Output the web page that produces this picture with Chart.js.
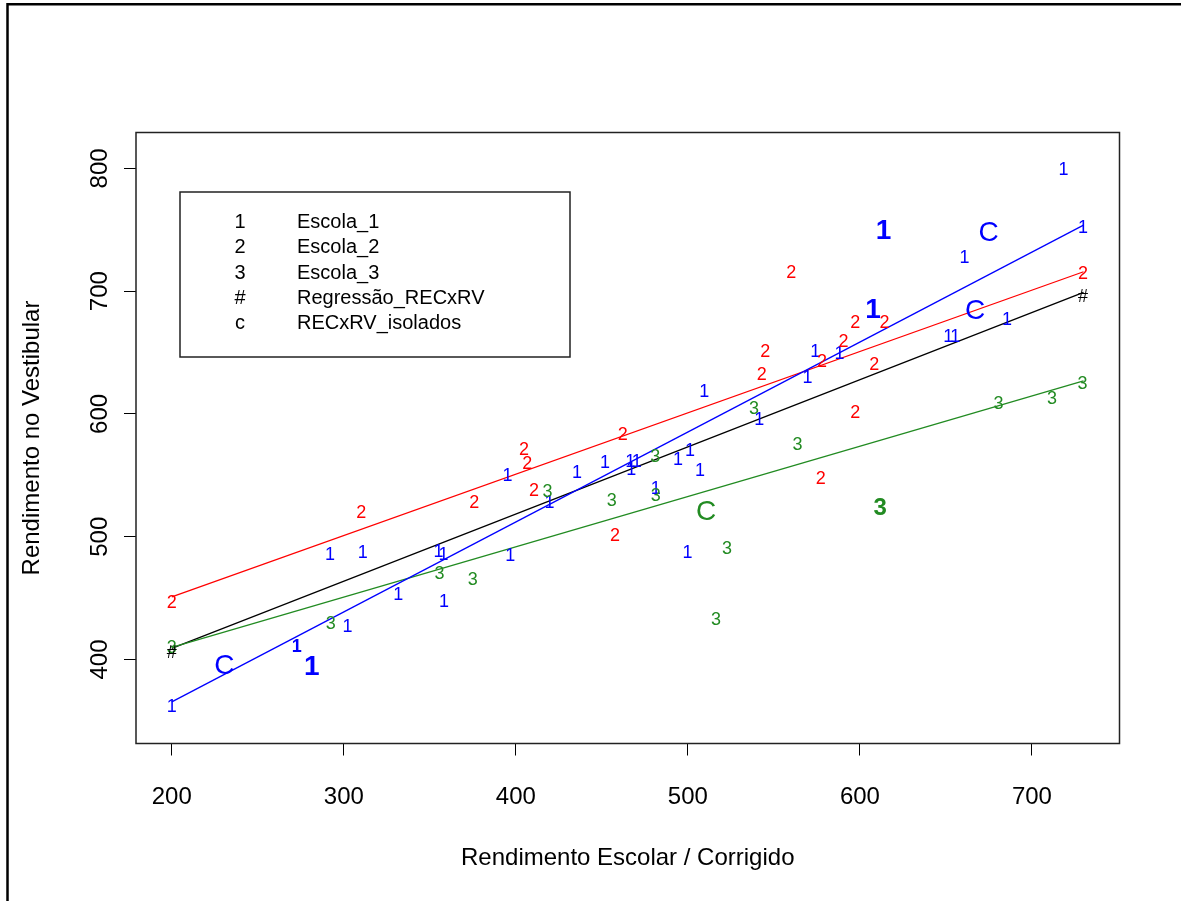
<!DOCTYPE html>
<html>
<head>
<meta charset="utf-8">
<script src="https://cdn.jsdelivr.net/npm/chart.js@4.4.0/dist/chart.umd.min.js"></script>
<style>
  html, body { margin: 0; padding: 0; background: #fff; }
  canvas { display: block; }
</style>
</head>
<body>
<canvas id="myChart" width="1181" height="901"></canvas>
<script>
// axis ticks
const xTicks = [200, 300, 400, 500, 600, 700];
const yTicks = [400, 500, 600, 700, 800];

// Escola_1 (blue "1")
const esc1X = [718.4, 660.8, 729.7, 685.5, 651.3, 655.4, 574.0, 588.1, 569.5, 509.5, 541.5, 395.1, 419.5, 435.5, 451.9, 466.5,
  470.3, 467.1, 494.2, 501.3, 507.1, 481.4, 499.8, 396.7, 292.0, 311.0, 355.0, 357.9, 331.7, 358.3, 302.1, 200];
const esc1Y = [798.6, 726.7, 751.1, 676.4, 662.8, 662.8, 650.6, 648.7, 628.9, 618.0, 595.0, 549.6, 527.6, 552.0, 560.2, 561.0,
  561.0, 554.2, 562.4, 570.0, 553.6, 538.5, 486.8, 484.2, 485.0, 486.8, 487.7, 485.0, 452.4, 446.9, 426.1, 361.4];
// repeated points (drawn heavier)
const esc1BigX = [613.7, 607.7, 281.4];
const esc1BigY = [748.4, 684.6, 394.0];
const esc1BoldX = [272.7];
const esc1BoldY = [409.8];

// Escola_2 (red "2")
const esc2X = [729.7, 560.1, 614.3, 597.3, 590.5, 577.9, 608.3, 597.3, 545.0, 543.0, 462.2, 404.8, 406.7, 375.8, 410.6, 457.7, 577.3, 310.1, 200];
const esc2Y = [713.9, 714.5, 673.7, 674.2, 658.7, 642.4, 639.8, 600.4, 650.6, 631.6, 582.7, 570.5, 558.9, 527.6, 537.4, 500.4, 546.6, 518.9, 446.1];

// Escola_3 (green "3")
const esc3X = [680.6, 711.6, 729.4, 538.5, 418.4, 481.0, 481.4, 455.8, 522.7, 375.0, 516.3, 563.7, 355.6, 292.4, 200];
const esc3Y = [608.0, 611.8, 624.3, 603.7, 536.5, 564.6, 533.0, 529.0, 489.6, 464.6, 432.0, 574.6, 469.5, 429.3, 409.2];
const esc3BoldX = [611.8];
const esc3BoldY = [523.0];

// Regressão_RECxRV (#) and isolated regressions (C)
const hashX = [200, 729.7];
const hashY = [405.1, 695.4];
const isoBlueX = [674.8, 667.0, 230.6];
const isoBlueY = [747.0, 683.2, 394.5];
const isoGreenX = [510.6];
const isoGreenY = [520.2];

// regression lines
const regX = [200, 730];
const reg1Y = [365.5, 753.8];
const reg2Y = [451.0, 715.8];
const reg3Y = [409.8, 627.0];
const regAllY = [409.0, 699.0];

const legendSymbols = ['1', '2', '3', '#', 'c'];
const legendLabels = ['Escola_1', 'Escola_2', 'Escola_3', 'Regressão_RECxRV', 'RECxRV_isolados'];

const FONT = '"Liberation Sans", Arial, Helvetica, sans-serif';
const BLUE = '#0000ff', RED = '#ff0000', GREEN = '#228b22';

const pts = (xs, ys) => xs.map((x, i) => ({x: x, y: ys[i]}));

function textSet(xs, ys, glyph, color, font) {
  return {data: pts(xs, ys), glyph: glyph, glyphColor: color, glyphFont: font, pointRadius: 0, showLine: false};
}
function lineSet(ys, color) {
  return {data: pts(regX, ys), showLine: true, borderColor: color, borderWidth: 1.3, pointRadius: 0, fill: false};
}

// draws each point as its text glyph at the scale position
const textPoints = {
  id: 'textPoints',
  afterDatasetsDraw(chart) {
    const ctx = chart.ctx;
    chart.data.datasets.forEach((ds, i) => {
      if (!ds.glyph) return;
      const meta = chart.getDatasetMeta(i);
      ctx.save();
      ctx.font = ds.glyphFont;
      ctx.fillStyle = ds.glyphColor;
      ctx.textAlign = 'center';
      ctx.textBaseline = 'middle';
      meta.data.forEach(pt => ctx.fillText(ds.glyph, pt.x, pt.y));
      ctx.restore();
    });
  }
};

// page frame, plot box and the boxed legend
const frame = {
  id: 'frame',
  beforeDraw(chart) {
    const ctx = chart.ctx;
    ctx.save();
    ctx.fillStyle = '#fff';
    ctx.fillRect(0, 0, chart.width, chart.height);
    ctx.strokeStyle = '#000';
    ctx.lineWidth = 2.5;
    ctx.beginPath();
    ctx.moveTo(7.5, chart.height);
    ctx.lineTo(7.5, 4.3);
    ctx.lineTo(chart.width, 4.3);
    ctx.stroke();
    ctx.restore();
  },
  afterDraw(chart) {
    const ctx = chart.ctx;
    const a = chart.chartArea;
    ctx.save();
    ctx.strokeStyle = '#222';
    ctx.lineWidth = 1.5;
    ctx.strokeRect(a.left, a.top, a.right - a.left, a.bottom - a.top);

    ctx.strokeRect(180, 192, 390, 165);
    ctx.fillStyle = '#000';
    ctx.font = '20px ' + FONT;
    ctx.textBaseline = 'middle';
    legendSymbols.forEach((s, i) => {
      const y = 222.5 + i * 25.3;
      ctx.textAlign = 'center';
      ctx.fillText(s, 240, y);
      ctx.textAlign = 'left';
      ctx.fillText(legendLabels[i], 297, y);
    });
    ctx.restore();
  }
};

const ctx = document.getElementById('myChart').getContext('2d');
new Chart(ctx, {
  type: 'scatter',
  data: {
    datasets: [
      textSet(esc1X, esc1Y, '1', BLUE, '18px ' + FONT),
      textSet(esc1BigX, esc1BigY, '1', BLUE, 'bold 28px ' + FONT),
      textSet(esc1BoldX, esc1BoldY, '1', BLUE, 'bold 18px ' + FONT),
      textSet(esc2X, esc2Y, '2', RED, '18px ' + FONT),
      textSet(esc3X, esc3Y, '3', GREEN, '18px ' + FONT),
      textSet(esc3BoldX, esc3BoldY, '3', GREEN, 'bold 24px ' + FONT),
      textSet(hashX, hashY, '#', '#000', '18px ' + FONT),
      textSet(isoBlueX, isoBlueY, 'C', BLUE, '28px ' + FONT),
      textSet(isoGreenX, isoGreenY, 'C', GREEN, '28px ' + FONT),
      lineSet(reg1Y, BLUE),
      lineSet(reg2Y, RED),
      lineSet(reg3Y, GREEN),
      lineSet(regAllY, '#000')
    ]
  },
  options: {
    responsive: false,
    animation: false,
    events: [],
    layout: {padding: {top: 132.5, right: 61.5, left: 0, bottom: 0}},
    plugins: {legend: {display: false}, tooltip: {enabled: false}},
    scales: {
      x: {
        type: 'linear',
        min: 179.2,
        max: 750.9,
        afterBuildTicks: s => { s.ticks = xTicks.map(v => ({value: v})); },
        afterFit: s => { s.height = 157.5; },
        grid: {drawOnChartArea: false, drawTicks: true, tickLength: 12, color: '#000', lineWidth: 1},
        border: {display: false},
        ticks: {font: {family: FONT, size: 24}, color: '#000', padding: 27, maxRotation: 0, autoSkip: false},
        title: {display: true, text: 'Rendimento Escolar / Corrigido', color: '#000',
          font: {family: FONT, size: 24}, padding: {top: 0, bottom: 28.6}}
      },
      y: {
        type: 'linear',
        min: 331.6,
        max: 829.2,
        afterBuildTicks: s => { s.ticks = yTicks.map(v => ({value: v})); },
        afterFit: s => { s.width = 136; },
        grid: {drawOnChartArea: false, drawTicks: true, tickLength: 12, color: '#000', lineWidth: 1},
        border: {display: false},
        ticks: {font: {family: FONT, size: 24}, color: '#000', padding: 4, minRotation: 90, maxRotation: 90,
          crossAlign: 'center', autoSkip: false},
        title: {display: true, text: 'Rendimento no Vestibular', color: '#000',
          font: {family: FONT, size: 24}, padding: {top: 17.6, bottom: 0}}
      }
    }
  },
  plugins: [textPoints, frame]
});
</script>
</body>
</html>
